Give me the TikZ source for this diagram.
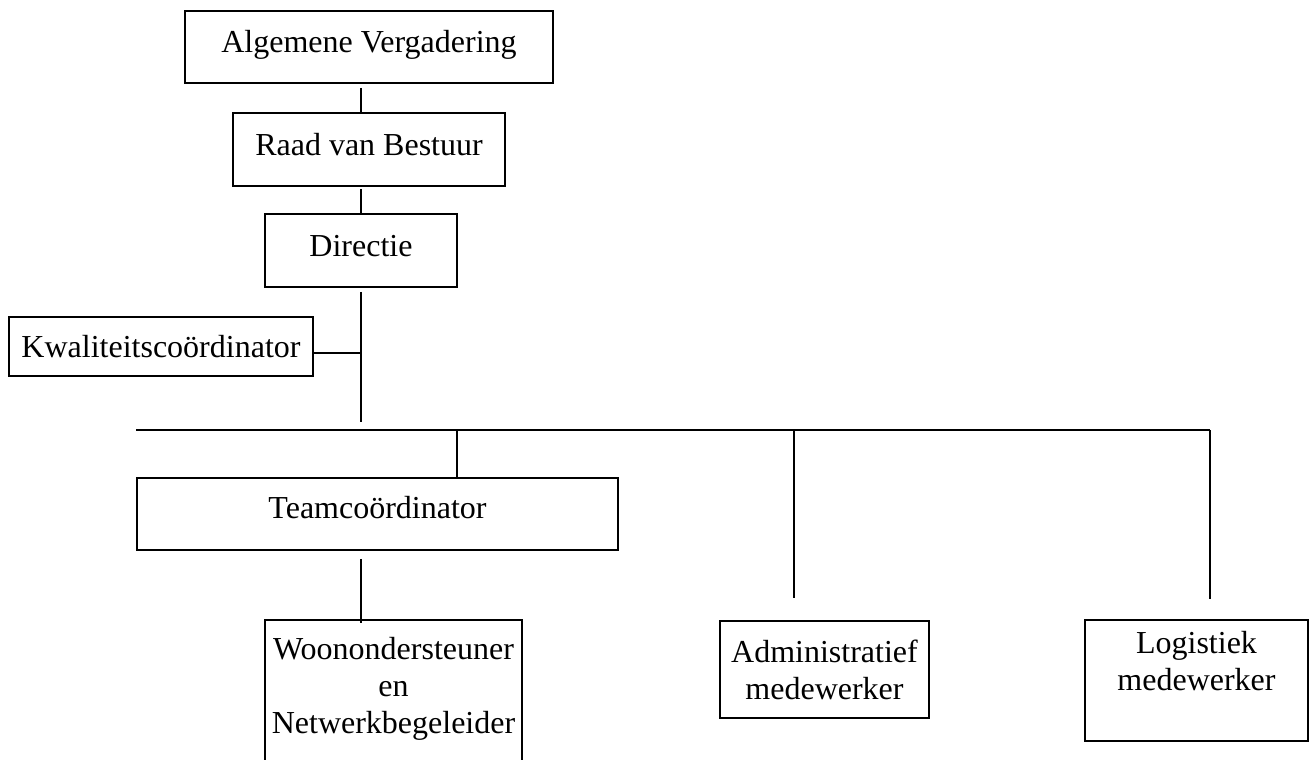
\documentclass[tikz,border=0pt]{standalone}
\usepackage{fontspec}
\setmainfont{Liberation Serif}
\usepackage{tikz}
\usetikzlibrary{calc}

\begin{document}
\begin{tikzpicture}[
  x=1pt, y=-1pt,
  box/.style={rectangle, draw, line width=1.6pt, inner sep=0pt, align=center,
              font=\fontsize{32}{37}\selectfont},
  single/.style={box, text height=22pt, text depth=11pt},
  conn/.style={line width=1.2pt},
  barline/.style={line width=1.7pt}
]
\useasboundingbox (0,0) rectangle (1309,760);

% Top
\node[single, minimum width=368, minimum height=72] (av)   at (369,47)    {Algemene Vergadering};
\node[single, minimum width=272, minimum height=73] (rvb)  at (369,149.5) {Raad van Bestuur};
\node[single, minimum width=192, minimum height=73] (dir)  at (361,250.5) {Directie};
\node[single, minimum width=304, minimum height=59, text depth=1pt] (kwal) at (161,346.5) {Kwaliteitscoördinator};

% Row 2
\node[single, minimum width=481, minimum height=72, text depth=13pt] (team) at (377.5,514) {Teamcoördinator};

% Row 3
\node[box, minimum width=257, anchor=north, inner ysep=17pt, text depth=30pt] (woon) at (393.5,619)
  {Woonondersteuner\\en\\Netwerkbegeleider};
\node[box, minimum width=209, minimum height=97] (adm) at (824.5,669.5) {Administratief\\medewerker};
\node[box, minimum width=223, anchor=north, inner ysep=11pt, text depth=40pt] (log) at (1196.5,619)
  {Logistiek\\medewerker};

% Lines
\coordinate (spine)   at (361,0);
\coordinate (kwj)     at (361,353);
\coordinate (barL)    at (136,430);
\coordinate (barR)    at (1210,430);
\coordinate (teamTap) at (457,430);
\coordinate (admTap)  at (794,430);

\draw[conn] ($(av.south -| spine)+(0,4)$) -- (rvb.north -| spine);
\draw[conn] ($(rvb.south -| spine)+(0,2)$) -- (dir.north -| spine);
\draw[conn] ($(dir.south -| spine)+(0,4)$) -- ($(barL -| spine)+(0,-8)$);
\draw[conn] (kwal.east |- kwj) -- (kwj);
\draw[barline] (barL) -- (barR);
\draw[conn] (teamTap) -- (teamTap |- team.north);
\draw[conn] ($(team.south -| spine)+(0,8)$) -- ($(woon.north -| spine)+(0,4)$);
\draw[conn] (admTap) -- ($(admTap |- adm.north)+(0,-22)$);
\draw[conn] (barR) -- ($(barR |- log.north)+(0,-20)$);
\end{tikzpicture}
\end{document}
